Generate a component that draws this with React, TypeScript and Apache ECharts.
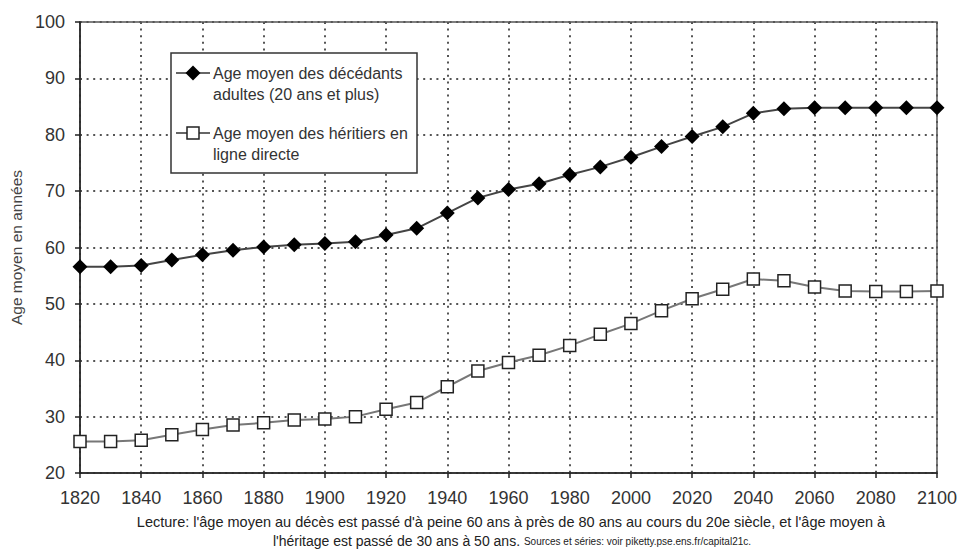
import React, { useEffect, useRef } from "react";
import * as echarts from "echarts";

const years = [1820, 1830, 1840, 1850, 1860, 1870, 1880, 1890, 1900, 1910, 1920, 1930, 1940, 1950, 1960, 1970, 1980, 1990, 2000, 2010, 2020, 2030, 2040, 2050, 2060, 2070, 2080, 2090, 2100];
const ageDecedants = [56.6, 56.6, 56.8, 57.8, 58.7, 59.5, 60.1, 60.5, 60.7, 61.0, 62.2, 63.4, 66.1, 68.8, 70.3, 71.3, 72.9, 74.3, 76.0, 77.9, 79.7, 81.4, 83.8, 84.6, 84.8, 84.8, 84.8, 84.8, 84.8];
const ageHeritiers = [25.6, 25.6, 25.8, 26.8, 27.7, 28.5, 28.9, 29.4, 29.6, 30.0, 31.3, 32.5, 35.3, 38.1, 39.6, 40.9, 42.6, 44.6, 46.5, 48.8, 50.9, 52.6, 54.4, 54.1, 53.0, 52.3, 52.2, 52.2, 52.3];

const seriesNames = ["Age moyen des décédants adultes (20 ans et plus)", "Age moyen des héritiers en ligne directe"];
const legendLines1 = ["Age moyen des décédants", "adultes (20 ans et plus)"];
const legendLines2 = ["Age moyen des héritiers en", "ligne directe"];
const yTitle = "Age moyen en années";
const caption1 = "Lecture: l'âge moyen au décès est passé d'à peine 60 ans à près de 80 ans au cours du 20e siècle, et l'âge moyen à";
const caption2a = "l'héritage est passé de 30 ans à 50 ans. ";
const caption2b = "Sources et séries: voir piketty.pse.ens.fr/capital21c.";

const FONT = "'Liberation Sans', Arial, Helvetica, sans-serif";

export default function App() {
  const ref = useRef<HTMLDivElement>(null);

  useEffect(() => {
    if (!ref.current) return;
    const chart = echarts.init(ref.current, undefined, { renderer: "svg" });
    const gridLine = { show: true, lineStyle: { type: [2, 4.6], color: "#555", width: 2 } };
    const option: any = {
      animation: false,
      backgroundColor: "#fff",
      textStyle: { fontFamily: FONT },
      grid: { left: 80, right: 20, top: 22, bottom: 77, show: true, borderColor: "#555", borderWidth: 1.5 },
      xAxis: {
        type: "value",
        min: 1820,
        max: 2100,
        interval: 20,
        axisLine: { lineStyle: { color: "#222", width: 1.5 } },
        axisTick: { show: true, length: 5, lineStyle: { color: "#222", width: 1.5 } },
        axisLabel: { fontSize: 18, color: "#333", margin: 16, fontFamily: FONT, formatter: (v: number) => String(v) },
        splitLine: gridLine,
      },
      yAxis: {
        type: "value",
        min: 20,
        max: 100,
        interval: 10,
        name: yTitle,
        nameLocation: "middle",
        nameGap: 56,
        nameTextStyle: { fontSize: 15.5, color: "#444", fontFamily: FONT },
        axisLine: { show: true, lineStyle: { color: "#222", width: 1.5 } },
        axisTick: { show: true, length: 5, lineStyle: { color: "#222", width: 1.5 } },
        axisLabel: { fontSize: 18, color: "#333", margin: 15, fontFamily: FONT },
        splitLine: gridLine,
      },
      series: [
        {
          name: seriesNames[0],
          type: "line",
          data: years.map((y, i) => [y, ageDecedants[i]]),
          symbol: "diamond",
          symbolSize: 15,
          itemStyle: { color: "#000" },
          lineStyle: { color: "#444", width: 2 },
          z: 3,
        },
        {
          name: seriesNames[1],
          type: "line",
          data: years.map((y, i) => [y, ageHeritiers[i]]),
          symbol: "rect",
          symbolSize: 12,
          itemStyle: { color: "#fff", borderColor: "#222", borderWidth: 1.5 },
          lineStyle: { color: "#777", width: 2 },
          z: 3,
        },
      ],
      graphic: [
        {
          type: "rect",
          z: 100,
          shape: { x: 171, y: 53, width: 246, height: 120 },
          style: { fill: "#fff", stroke: "#333", lineWidth: 1.5 },
        },
        { type: "line", z: 101, shape: { x1: 176, y1: 73, x2: 210, y2: 73 }, style: { stroke: "#333", lineWidth: 1.5 } },
        { type: "polygon", z: 102, shape: { points: [[193, 65.5], [200.5, 73], [193, 80.5], [185.5, 73]] }, style: { fill: "#000" } },
        {
          type: "text", z: 102, x: 213, y: 62.5,
          style: { text: legendLines1.join("\n"), fontSize: 16, fontFamily: FONT, fill: "#333", lineHeight: 21, verticalAlign: "top", align: "left" },
        },
        { type: "line", z: 101, shape: { x1: 176, y1: 133, x2: 210, y2: 133 }, style: { stroke: "#333", lineWidth: 1.5 } },
        { type: "rect", z: 102, shape: { x: 187, y: 127, width: 12, height: 12 }, style: { fill: "#fff", stroke: "#222", lineWidth: 1.5 } },
        {
          type: "text", z: 102, x: 213, y: 122.5,
          style: { text: legendLines2.join("\n"), fontSize: 16, fontFamily: FONT, fill: "#333", lineHeight: 21, verticalAlign: "top", align: "left" },
        },
        {
          type: "text", x: 511, y: 522,
          style: { text: caption1, fontSize: 14.5, fontFamily: FONT, fill: "#222", align: "center", verticalAlign: "middle" },
        },
        {
          type: "text", x: 512, y: 541,
          style: {
            text: "{a|" + caption2a + "}{b|" + caption2b + "}",
            align: "center",
            verticalAlign: "middle",
            fontFamily: FONT,
            fill: "#222",
            rich: {
              a: { fontSize: 14, fontFamily: FONT, fill: "#222" },
              b: { fontSize: 10, fontFamily: FONT, fill: "#222" },
            },
          },
        },
      ],
    };
    chart.setOption(option);
    return () => chart.dispose();
  }, []);

  return (
    <div
      ref={ref}
      style={{ position: "fixed", left: 0, top: 0, width: 960, height: 550, background: "#fff" }}
    />
  );
}
